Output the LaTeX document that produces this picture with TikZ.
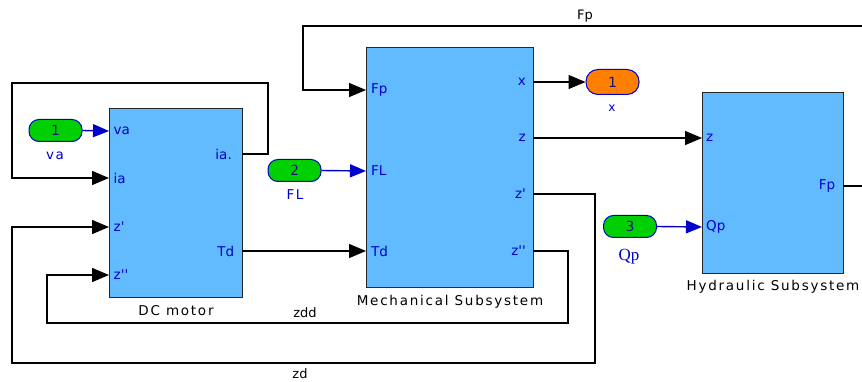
\documentclass[tikz,border=0pt]{standalone}
\usepackage{fontspec}
\setmainfont{DejaVu Sans}
\newfontfamily\pf{DejaVu Sans}
\newfontfamily\lf{DejaVu Sans}[LetterSpace=13]
\newfontfamily\nf{DejaVu Sans}[LetterSpace=10]
\newfontfamily\qf{Liberation Serif}
\usetikzlibrary{arrows.meta}
\definecolor{blockblue}{RGB}{99,187,255}
\definecolor{portblue}{RGB}{0,0,204}
\definecolor{numblue}{RGB}{20,20,120}
\definecolor{ingreen}{RGB}{0,208,0}
\definecolor{outorange}{RGB}{255,128,0}
\begin{document}
\begin{tikzpicture}[x=1pt,y=-1pt,
  sub/.style={draw=black!85, line width=1.4pt, fill=blockblue, inner sep=0pt, anchor=north west},
  inport/.style={draw=portblue, line width=1pt, fill=ingreen, rounded corners=10pt, minimum width=53pt, minimum height=22pt, inner sep=0pt, font=\pf\fontsize{14}{14}\selectfont, text=numblue},
  outport/.style={inport, fill=outorange, minimum height=25pt, rounded corners=12pt},
  plab/.style={inner sep=0pt, text=portblue, font=\pf\fontsize{13.5}{14}\selectfont},
  inlab/.style={plab, anchor=west},
  outlab/.style={plab, anchor=east},
  blab/.style={inner sep=0pt, anchor=base, font=\lf\fontsize{13.5}{14}\selectfont},
  slab/.style={inner sep=0pt, font=\pf\fontsize{13}{14}\selectfont},
  wire/.style={line width=1.4pt, draw=black},
  warr/.style={wire, -{Triangle[length=17pt,width=14pt]}},
  barr/.style={line width=1.4pt, draw=portblue, -{Triangle[length=16pt,width=13pt]}}]
\clip (0,0) rectangle (862,382);
\fill[white] (0,0) rectangle (862,382);

% blocks
\node[sub, minimum width=133pt, minimum height=189pt] (dc) at (109,108) {};
\node[sub, minimum width=167pt, minimum height=240pt] (mech) at (366,47) {};
\node[sub, minimum width=141pt, minimum height=181pt] (hyd) at (702,92) {};

\node[blab] (dcname) at (176,315) {DC motor};
\node[blab] (mechname) at (450,305) {Mechanical Subsystem};
\node[blab] (hydname) at (773,290) {Hydraulic Subsystem};

% port coordinates
\coordinate (dcVa) at (109,131);
\coordinate (dcIa) at (109,178);
\coordinate (dcZp) at (109,227);
\coordinate (dcZpp) at (109,275);
\coordinate (dcIaO) at (242,154);
\coordinate (dcTdO) at (242,251);
\coordinate (mFp) at (366,90);
\coordinate (mFL) at (366,171);
\coordinate (mTd) at (366,251);
\coordinate (mX) at (533,82);
\coordinate (mZ) at (533,138);
\coordinate (mZp) at (533,194);
\coordinate (mZpp) at (533,251);
\coordinate (hZ) at (702,138);
\coordinate (hQp) at (702,227);
\coordinate (hFp) at (843,186);
\coordinate (edgeFp) at (868,186);

% port labels
\node[inlab] (lva) at (113.5,131) {va};
\node[inlab] (lia) at (113.5,178) {ia};
\node[inlab] (lzp) at (113.5,227) {z'};
\node[inlab] (lzpp) at (113.5,275) {z''};
\node[outlab] (liao) at (232,154) {ia.};
\node[outlab] (ltdo) at (234.5,251) {Td};
\node[inlab] (lfp) at (371,90) {Fp};
\node[inlab] (lfl) at (371,171) {FL};
\node[inlab] (ltd) at (371,251) {Td};
\node[outlab] (lx) at (526,82) {x};
\node[outlab] (lz) at (526,138) {z};
\node[outlab] (lzpo) at (526,194) {z'};
\node[outlab] (lzppo) at (526,251) {z''};
\node[inlab] (hlz) at (706,138) {z};
\node[inlab] (hlqp) at (706,227) {Qp};
\node[outlab] (hlfp) at (835.5,186) {Fp};

% inports / outport
\node[inport] (in1) at (55.5,130.5) {1};
\node[inport] (in2) at (294.5,170.5) {2};
\node[inport] (in3) at (630,226.5) {3};
\node[outport] (out1) at (612.5,82) {1};
\node[plab, font=\nf\fontsize{13.5}{14}\selectfont] (in1lab) at (55,156) {va};
\node[plab, font=\nf\fontsize{13.5}{14}\selectfont] (in2lab) at (295,195) {FL};
\node[plab, font=\pf\fontsize{12}{12}\selectfont] (out1lab) at (612,108) {x};
\node[plab, font=\qf\fontsize{17}{17}\selectfont, anchor=base] (in3lab) at (629,260) {Qp};

% signal labels
\node[slab] (fplab) at (585,16) {Fp};
\node[slab] (zddlab) at (305,313) {zdd};
\node[slab] (zdlab) at (300,374) {zd};

% connectors
\draw[barr] (in1.east) -- (dcVa);
\draw[barr] (in2.east) -- (mFL);
\draw[barr] (in3.east) -- (hQp);
\draw[warr] (mX) -- (out1.west);
\draw[warr] (mZ) -- (hZ);
\draw[warr] (dcTdO) -- (mTd);
\draw[warr] (dcIaO) -| (268,83) -| (12,178) -- (dcIa);
\draw[warr] (mZp) -| (595,363) -| (12,227) -- (dcZp);
\draw[warr] (mZpp) -| (568,323) -| (47,275) -- (dcZpp);
\draw[warr] (hFp) -- (edgeFp) |- (303,26) |- (mFp);
\end{tikzpicture}
\end{document}
